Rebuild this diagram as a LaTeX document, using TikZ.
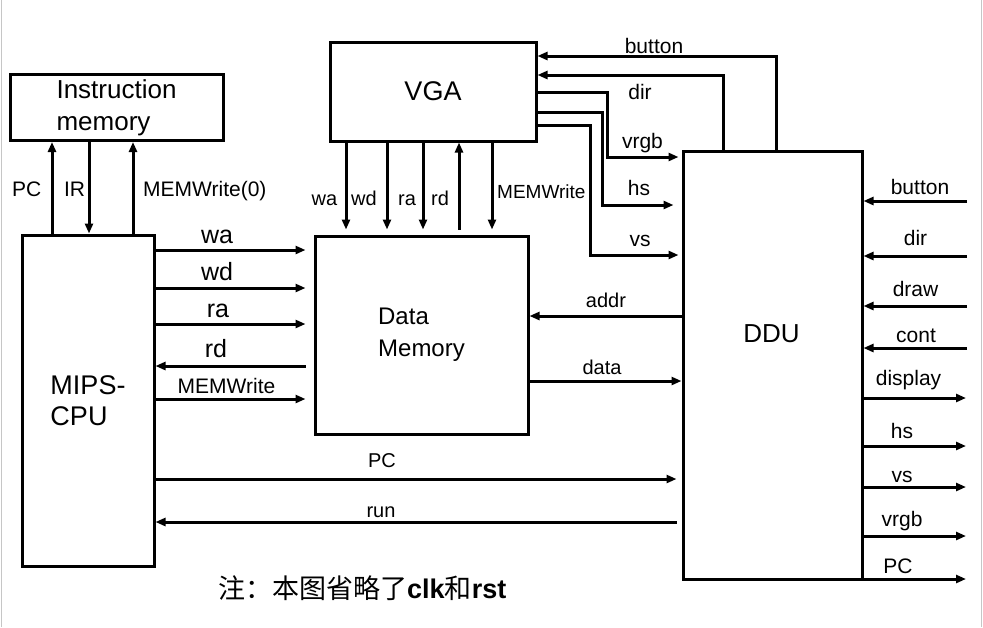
\documentclass[tikz,border=0pt]{standalone}
\usepackage{fontspec}
\setmainfont{Liberation Sans}
\newfontfamily\cjk{Noto Sans CJK SC}
\usepackage{tikz}
\usetikzlibrary{positioning, arrows.meta}

\begin{document}
\begin{tikzpicture}[x=1pt, y=-1pt,
	box/.style={draw, line width=3pt, inner sep=0pt, align=left},
	sig/.style={line width=3pt, -{Triangle[length=10pt,width=8pt]}},
	lbl/.style={inner sep=0pt, anchor=base, font=\fontsize{21}{21}\selectfont},
	biglbl/.style={lbl, font=\fontsize{25}{25}\selectfont},
	smlbl/.style={lbl, font=\fontsize{20}{20}\selectfont}]
	\useasboundingbox (0,0) rectangle (983,627);
	\draw[gray!45, line width=1.5pt] (1.5,0) -- (1.5,627);
	\draw[gray!45, line width=1.5pt] (981.5,0) -- (981.5,627);

	\node[box, minimum width=213, minimum height=66, font=\fontsize{26}{32}\selectfont] (IM) at (116.5,107.5) {Instruction\\memory};
	\node[box, minimum width=132, minimum height=331, font=\fontsize{27}{31}\selectfont] (CPU) at (88,400.5) {MIPS-\\CPU};
	\node[box, minimum width=206, minimum height=99, font=\fontsize{27}{27}\selectfont] (VGA) at (433,91.5) {VGA};
	\node[box, minimum width=213, minimum height=198, font=\fontsize{24}{32}\selectfont] (DM) at (421.5,335) {Data\\Memory};
	\node[box, minimum width=179, minimum height=428] (DDU) at (772.5,365) {};
	\node[lbl, font=\fontsize{26}{26}\selectfont] (DDUname) at (771.5,342) {DDU};

	% instruction memory <-> cpu
	\draw[sig] (CPU.north -| 52,0) -- (IM.south -| 52,0);
	\draw[sig] (IM.south -| 89,0) -- (CPU.north -| 89,0);
	\draw[sig] (CPU.north -| 133,0) -- (IM.south -| 133,0);
	\node[lbl] (imPC) at (26.7,196) {PC};
	\node[lbl] (imIR) at (74.5,196) {IR};
	\node[lbl, anchor=base west] (imMW) at (143,196) {MEMWrite(0)};

	% cpu <-> data memory
	\draw[sig, shorten >=8pt] (CPU.east |- 0,250) -- (DM.west |- 0,250);
	\draw[sig, shorten >=8pt] (CPU.east |- 0,288) -- (DM.west |- 0,288);
	\draw[sig, shorten >=8pt] (CPU.east |- 0,324) -- (DM.west |- 0,324);
	\draw[sig, shorten <=8pt] (DM.west |- 0,366) -- (CPU.east |- 0,366);
	\draw[sig, shorten >=8pt] (CPU.east |- 0,399) -- (DM.west |- 0,399);
	\node[biglbl] (cWA) at (217,243) {wa};
	\node[biglbl] (cWD) at (217,280) {wd};
	\node[biglbl] (cRA) at (218,317) {ra};
	\node[biglbl] (cRD) at (216,357) {rd};
	\node[lbl] (cMW) at (226.5,393) {MEMWrite};

	% vga <-> data memory
	\draw[sig, shorten >=5pt] (VGA.south -| 346,0) -- (DM.north -| 346,0);
	\draw[sig, shorten >=5pt] (VGA.south -| 387,0) -- (DM.north -| 387,0);
	\draw[sig, shorten >=5pt] (VGA.south -| 423,0) -- (DM.north -| 423,0);
	\draw[sig, shorten <=5pt] (DM.north -| 459,0) -- (VGA.south -| 459,0);
	\draw[sig, shorten >=5pt] (VGA.south -| 492,0) -- (DM.north -| 492,0);
	\node[smlbl] (vWA) at (324.5,205) {wa};
	\node[smlbl] (vWD) at (364,205) {wd};
	\node[smlbl] (vRA) at (407,205) {ra};
	\node[smlbl] (vRD) at (440,205) {rd};
	\node[lbl, anchor=base west, font=\fontsize{19}{19}\selectfont] (vMW) at (497,198) {MEMWrite};

	% data memory <-> ddu
	\draw[sig] (DDU.west |- 0,316) -- (DM.east |- 0,316);
	\draw[sig] (DM.east |- 0,381) -- (DDU.west |- 0,381);
	\node[smlbl] (dAddr) at (606,307) {addr};
	\node[smlbl] (dData) at (602,374) {data};

	% cpu <-> ddu
	\draw[sig, shorten >=5pt] (CPU.east |- 0,479) -- (DDU.west |- 0,479);
	\draw[sig, shorten <=5pt] (DDU.west |- 0,522) -- (CPU.east |- 0,522);
	\node[smlbl] (dPC) at (382,467) {PC};
	\node[smlbl] (dRun) at (381,517) {run};

	% ddu <-> vga
	\draw[sig] (DDU.north -| 776,0) |- (VGA.east |- 0,56);
	\draw[sig] (DDU.north -| 723,0) |- (VGA.east |- 0,75);
	\draw[sig, shorten >=3pt] (VGA.east |- 0,92) -| (607,157) -- (DDU.west |- 0,157);
	\draw[sig, shorten >=8pt] (VGA.east |- 0,112) -| (602,205) -- (DDU.west |- 0,205);
	\draw[sig, shorten >=3pt] (VGA.east |- 0,125) -| (590,255) -- (DDU.west |- 0,255);
	\node[lbl] (gBtn) at (654,53) {button};
	\node[lbl] (gDir) at (640,99) {dir};
	\node[lbl] (gRGB) at (642.5,148) {vrgb};
	\node[lbl] (gHS) at (639,195) {hs};
	\node[lbl] (gVS) at (640,246) {vs};

	% ddu board pins
	\coordinate (btnIn) at (967,201);
	\coordinate (dirIn) at (967,256);
	\coordinate (drawIn) at (967,306);
	\coordinate (contIn) at (967,348);
	\coordinate (dispOut) at (966,398);
	\coordinate (hsOut) at (966,446);
	\coordinate (vsOut) at (966,487);
	\coordinate (rgbOut) at (966,536);
	\coordinate (pcOut) at (966,579);
	\draw[sig] (btnIn) -- (DDU.east |- btnIn);
	\draw[sig] (dirIn) -- (DDU.east |- dirIn);
	\draw[sig] (drawIn) -- (DDU.east |- drawIn);
	\draw[sig] (contIn) -- (DDU.east |- contIn);
	\draw[sig] (DDU.east |- dispOut) -- (dispOut);
	\draw[sig] (DDU.east |- hsOut) -- (hsOut);
	\draw[sig] (DDU.east |- vsOut) -- (vsOut);
	\draw[sig] (DDU.east |- rgbOut) -- (rgbOut);
	\draw[sig] (DDU.east |- pcOut) -- (pcOut);
	\node[lbl] (pBtn) at (920,194) {button};
	\node[lbl] (pDir) at (915.5,245) {dir};
	\node[lbl] (pDraw) at (915.5,296) {draw};
	\node[lbl] (pCont) at (916,342) {cont};
	\node[lbl] (pDisp) at (908.5,385) {display};
	\node[lbl] (pHS) at (902,438) {hs};
	\node[lbl] (pVS) at (902,482) {vs};
	\node[lbl] (pRGB) at (902,526) {vrgb};
	\node[lbl] (pPC) at (898,573) {PC};

	\node[lbl, anchor=base west, font=\fontsize{27}{27}\selectfont] (note) at (218,598) {{\cjk 注：本图省略了}\textbf{clk}{\cjk 和}\textbf{rst}};
\end{tikzpicture}
\end{document}
